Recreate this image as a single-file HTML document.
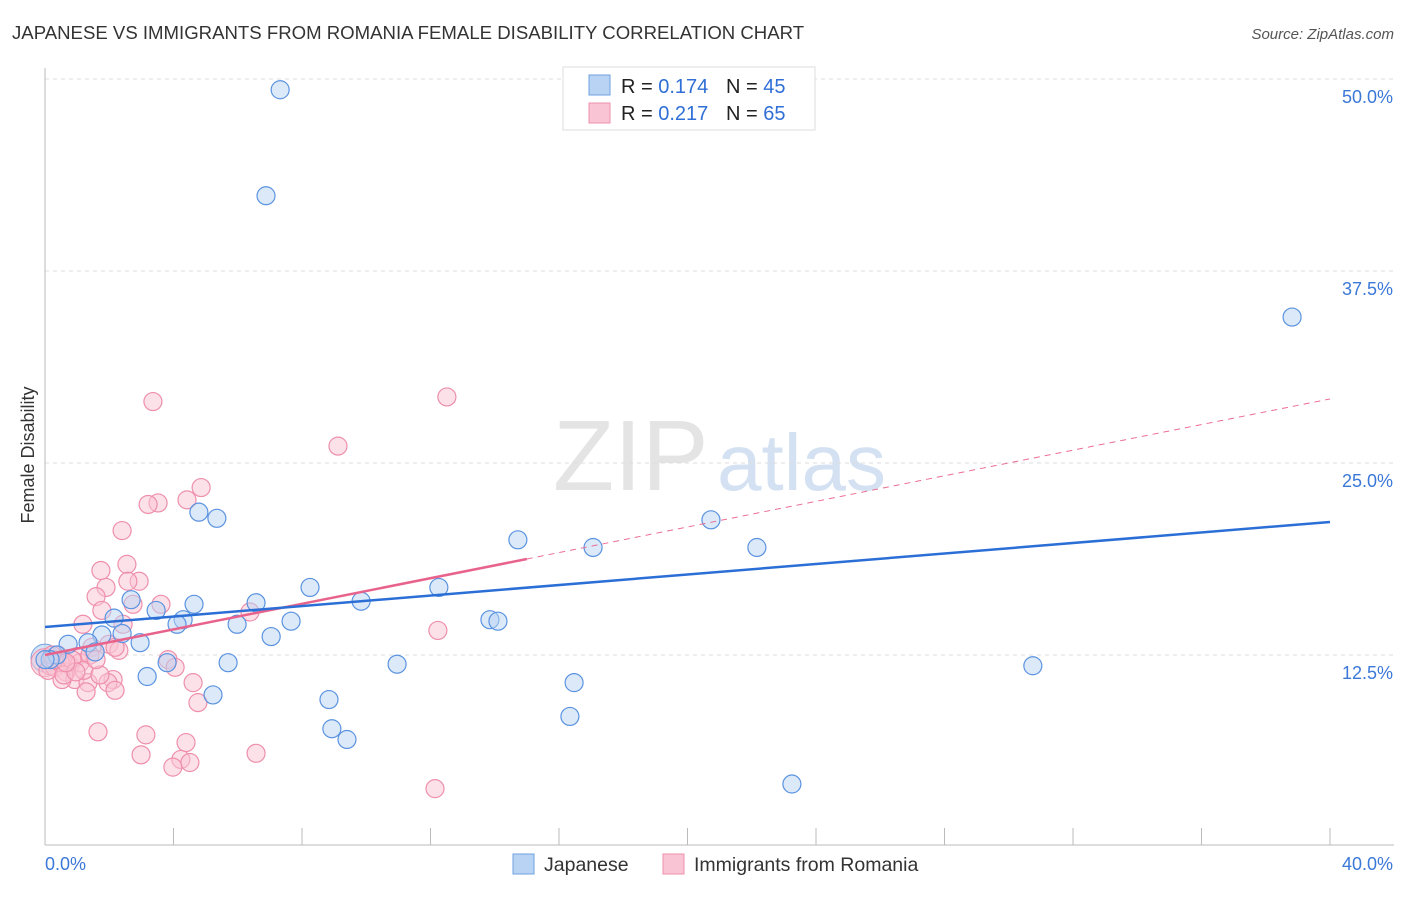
<!DOCTYPE html>
<html><head><meta charset="utf-8"><style>
body{margin:0;background:#fff;font-family:"Liberation Sans",sans-serif}
svg text{font-family:"Liberation Sans",sans-serif}
</style></head><body>
<svg id="chart" width="1406" height="892">
<text x="12" y="39" font-size="18.6" fill="#333">JAPANESE VS IMMIGRANTS FROM ROMANIA FEMALE DISABILITY CORRELATION CHART</text>
<text x="1394" y="39" font-size="15" fill="#555" font-style="italic" text-anchor="end">Source: ZipAtlas.com</text>
<text x="34" y="455" font-size="18" fill="#333" text-anchor="middle" transform="rotate(-90 34 455)">Female Disability</text>
<text x="553" y="490" font-size="100" fill="#e4e4e4" font-family="Liberation Serif">ZIP</text>
<text x="717" y="490" font-size="80" fill="#d3e1f2">atlas</text>
<g id="grid"></g>
<g id="axes"></g>
<g id="marks"></g>
<g>
<rect x="563" y="67" width="252" height="63" fill="#fff" stroke="#ddd"/>
<rect x="589" y="75" width="21" height="20" fill="#b8d3f4" stroke="#6fa0e0"/>
<rect x="589" y="103" width="21" height="20" fill="#f9c4d3" stroke="#ee8fab"/>
<text x="621" y="93" font-size="20" fill="#222">R = <tspan fill="#2f6fd6">0.174</tspan></text>
<text x="726" y="93" font-size="20" fill="#222">N = <tspan fill="#2f6fd6">45</tspan></text>
<text x="621" y="120" font-size="20" fill="#222">R = <tspan fill="#2f6fd6">0.217</tspan></text>
<text x="726" y="120" font-size="20" fill="#222">N = <tspan fill="#2f6fd6">65</tspan></text>
</g>
<g>
<rect x="513" y="854" width="21" height="20" fill="#b8d3f4" stroke="#6fa0e0"/>
<text x="544" y="871" font-size="19.5" fill="#333">Japanese</text>
<rect x="663" y="854" width="21" height="20" fill="#f9c4d3" stroke="#ee8fab"/>
<text x="694" y="871" font-size="19.5" fill="#333">Immigrants from Romania</text>
</g>
</svg>
<script>
const xTicks=[0,4,8,12,16,20,24,28,32,36,40];
const yTicks=[12.5,25,37.5,50];
const yTickLabels=["12.5%","25.0%","37.5%","50.0%"];
const xEndLabels=["0.0%","40.0%"];
const japX=[7.32,6.88,38.82,4.79,5.35,20.73,14.72,17.06,22.16,8.25,12.26,6.57,4.64,9.84,2.68,3.46,4.30,2.15,4.11,7.66,13.85,14.10,5.98,2.40,1.77,7.04,2.96,1.34,0.72,1.56,0.37,0.16,3.80,5.70,10.96,30.75,3.18,16.47,5.23,8.84,16.34,8.93,9.40,23.25,0];
const japY=[49.3,42.4,34.5,21.8,21.4,21.3,20.0,19.5,19.5,16.9,16.9,15.9,15.8,16.0,16.1,15.4,14.8,14.9,14.5,14.7,14.8,14.7,14.5,13.9,13.8,13.7,13.3,13.3,13.2,12.7,12.5,12.2,12.0,12.0,11.9,11.8,11.1,10.7,9.9,9.6,8.5,7.7,7.0,4.1,12.2];
const romX=[3.36,12.51,9.12,4.86,4.42,3.52,3.21,2.40,2.55,1.74,2.93,2.58,1.90,1.59,3.61,2.74,1.77,6.38,2.43,1.18,1.99,1.46,2.30,2.18,1.00,3.83,4.05,0.40,0.16,0.31,0.53,0.78,0.65,0.93,0.53,1.34,4.61,2.12,1.96,1.28,2.18,4.76,1.65,3.14,4.39,2.99,6.57,4.23,4.51,3.98,12.14,12.23,0.09,1.09,0.47,0.84,1.40,0.28,0.59,1.21,1.71,0.96,0.22,0.65,1.59];
const romY=[29.0,29.3,26.1,23.4,22.6,22.4,22.3,20.6,18.4,18.0,17.3,17.3,16.9,16.3,15.8,15.8,15.4,15.3,14.5,14.5,13.2,13.0,12.8,13.0,12.4,12.2,11.7,12.5,11.8,11.7,12.2,11.8,11.4,10.9,10.9,10.7,10.7,10.9,10.7,10.1,10.2,9.4,7.5,7.3,6.8,6.0,6.1,5.7,5.5,5.2,3.8,14.1,11.5,12.0,12.0,12.2,12.5,12.2,11.2,11.5,11.2,11.4,12.5,12.0,12.2];
const japTrend=[14.32,21.16];
const romTrend=[12.5,29.17];
const romSolidEnd=15.0;

const X=v=>45+v*32.125;
const Y=v=>847-v*15.36;
const NS="http://www.w3.org/2000/svg";
function mk(tag,parent,attrs){const e=document.createElementNS(NS,tag);for(const k in attrs)e.setAttribute(k,attrs[k]);parent.appendChild(e);return e;}
const grid=document.getElementById('grid'),axes=document.getElementById('axes'),marks=document.getElementById('marks');
yTicks.forEach((t,i)=>{
 const l=mk('line',grid,{x1:45,x2:1394,y1:Y(t),y2:Y(t),stroke:'#ddd','stroke-dasharray':'4,4'});
 
 
 const tx=mk('text',axes,{x:1393,y:Y(t)+24,'font-size':18,fill:'#3b78d8','text-anchor':'end'});
 tx.textContent=yTickLabels[i];
 
 
});
const ax=mk('line',axes,{x1:45,x2:1394,y1:845,y2:845,stroke:'#bbb'});


const ay=mk('line',axes,{x1:45,x2:45,y1:68,y2:845,stroke:'#bbb'});


xTicks.forEach(t=>{
 const l=mk('line',axes,{x1:X(t),x2:X(t),y1:828,y2:845,stroke:'#bbb'});
 
 
});
const xl0=mk('text',axes,{x:45,y:870,'font-size':18,fill:'#3b78d8'});xl0.textContent=xEndLabels[0];


const xl1=mk('text',axes,{x:1393,y:870,'font-size':18,fill:'#3b78d8','text-anchor':'end'});xl1.textContent=xEndLabels[1];


[[0,12.3,'#b8d3f4','#6fa0e0'],[0,12.0,'#f9c4d3','#ee8fab']].forEach(p=>{
 const c=mk('circle',marks,{cx:X(p[0]),cy:Y(p[1]),r:14,fill:p[2],'fill-opacity':0.6,stroke:p[3]});
 
 
});
romX.forEach((v,i)=>{
 const c=mk('circle',marks,{cx:X(v),cy:Y(romY[i]),r:9,fill:'#f9c4d3','fill-opacity':0.5,stroke:'#ee8fab','stroke-width':1.2});
 
 
});
japX.forEach((v,i)=>{
 const c=mk('circle',marks,{cx:X(v),cy:Y(japY[i]),r:9,fill:'#b8d3f4','fill-opacity':0.5,stroke:'#5b93e0','stroke-width':1.2});
 
 
});
const rAt=x=>romTrend[0]+(romTrend[1]-romTrend[0])*x/40;
const rd=mk('line',marks,{x1:X(romSolidEnd),y1:Y(rAt(romSolidEnd)),x2:X(40),y2:Y(romTrend[1]),stroke:'#ec6e93','stroke-width':1,'stroke-dasharray':'6,5'});


const rs=mk('line',marks,{x1:X(0),y1:Y(romTrend[0]),x2:X(romSolidEnd),y2:Y(rAt(romSolidEnd)),stroke:'#e8638c','stroke-width':2.5});


const jl=mk('line',marks,{x1:X(0),y1:Y(japTrend[0]),x2:X(40),y2:Y(japTrend[1]),stroke:'#2b6fd6','stroke-width':2.5});


</script>
</body></html>
